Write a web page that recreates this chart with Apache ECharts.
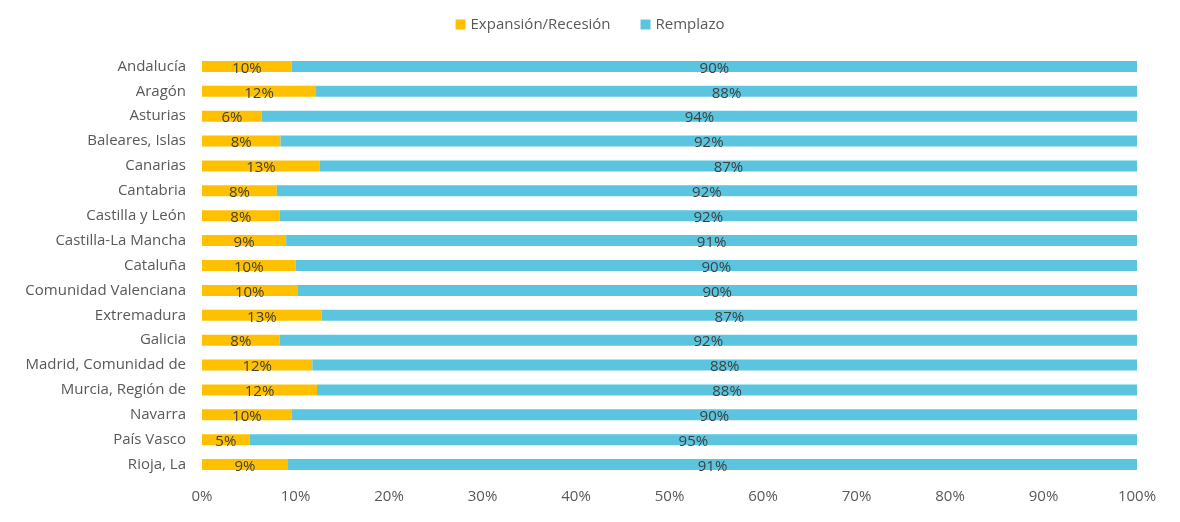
<!DOCTYPE html><html><head><meta charset="utf-8"><script src="https://cdn.jsdelivr.net/npm/echarts@6/dist/echarts.min.js"></script></head><body style="margin:0"><div id="c" style="width:1180px;height:522px"></div><script>
const categories=["Andalucía","Aragón","Asturias","Baleares, Islas","Canarias","Cantabria","Castilla y León","Castilla-La Mancha","Cataluña","Comunidad Valenciana","Extremadura","Galicia","Madrid, Comunidad de","Murcia, Región de","Navarra","País Vasco","Rioja, La"];
const expansion=[9.6,12.2,6.4,8.4,12.6,8.0,8.3,9.0,10.0,10.2,12.8,8.3,11.8,12.3,9.6,5.1,9.2];
const remplazo=expansion.map(v=>+(100-v).toFixed(1));
const lbl={show:true,position:'inside',offset:[0,2],color:'#404040',fontSize:15,fontFamily:'Open Sans, sans-serif',formatter:p=>Math.round(p.value)+'%'};
const ch=echarts.init(document.getElementById('c'));
ch.setOption({
 textStyle:{fontFamily:'Open Sans, sans-serif'},
 legend:{top:12,left:'center',itemWidth:10,itemHeight:10,icon:'rect',itemGap:30,textStyle:{color:'#595959',fontSize:15}},
 grid:{left:202,right:43,top:54,bottom:45},
 xAxis:{type:'value',min:0,max:100,interval:10,axisLabel:{formatter:'{value}%',color:'#595959',fontSize:15,margin:12},splitLine:{show:false},axisLine:{show:false},axisTick:{show:false}},
 yAxis:{type:'category',inverse:true,data:categories,axisLabel:{color:'#595959',fontSize:15,margin:16},axisTick:{show:false},axisLine:{show:false}},
 series:[
  {name:'Expansión/Recesión',type:'bar',stack:'a',data:expansion,barWidth:11,itemStyle:{color:'#FFC000'},label:lbl},
  {name:'Remplazo',type:'bar',stack:'a',data:remplazo,barWidth:11,itemStyle:{color:'#5BC5DF'},label:lbl}
 ]
});
</script></body></html>
